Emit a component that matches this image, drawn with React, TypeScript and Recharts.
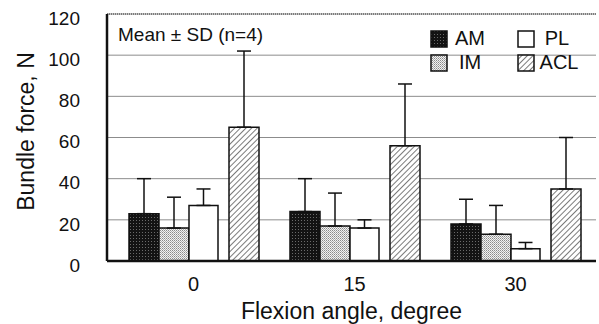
import React from "react"
import {
  Bar,
  BarChart,
  CartesianGrid,
  ErrorBar,
  ReferenceLine,
  XAxis,
  YAxis,
} from "recharts"

const angles = ["0", "15", "30"]
const amMean = [23, 24, 18]
const amSd = [17, 16, 12]
const imMean = [16, 17, 13]
const imSd = [15, 16, 14]
const plMean = [27, 16, 6]
const plSd = [8, 4, 3]
const aclMean = [65, 56, 35]
const aclSd = [37, 30, 25]
const yTicks = [0, 20, 40, 60, 80, 100, 120]

const data = angles.map((angle, i) => ({
  angle,
  am: amMean[i],
  amErr: [0, amSd[i]],
  im: imMean[i],
  imErr: [0, imSd[i]],
  pl: plMean[i],
  plErr: [0, plSd[i]],
  gap: null,
  acl: aclMean[i],
  aclErr: [0, aclSd[i]],
}))

const font = "'Liberation Sans', Arial, sans-serif"

const legendItems = [
  { name: "AM", fill: "url(#amFill)" },
  { name: "PL", fill: "#fff" },
  { name: "IM", fill: "url(#imFill)" },
  { name: "ACL", fill: "url(#aclFill)" },
]

// 2x2 key in the upper right corner of the plot
function LegendBox() {
  return (
    <div
      style={{
        position: "absolute",
        left: 430,
        top: 30,
        display: "grid",
        gridTemplateColumns: "87px 80px",
        rowGap: 7,
        fontFamily: font,
        fontSize: 20,
        color: "#111",
      }}
    >
      {legendItems.map((it) => (
        <div key={it.name} style={{ display: "flex", alignItems: "center", height: 17 }}>
          <svg width={18} height={18} style={{ display: "block" }}>
            <rect x={1} y={1} width={16} height={16} fill={it.fill} stroke="#111" strokeWidth={1.5} />
          </svg>
          <span style={{ width: it.name.length > 2 ? 48 : 44, textAlign: "center", lineHeight: "17px" }}>
            {it.name}
          </span>
        </div>
      ))}
    </div>
  )
}

export default function App() {
  return (
    <div style={{ position: "absolute", left: 0, top: 0, width: 599, height: 324, background: "#fff" }}>
      <BarChart
        width={599}
        height={324}
        data={data}
        barGap={0}
        margin={{ top: 14, right: 3, bottom: 0, left: 0 }}
      >
        <defs>
          <pattern id="amFill" width={3} height={3} patternUnits="userSpaceOnUse">
            <rect width={3} height={3} fill="#131313" />
            <rect x={1} y={1} width={1} height={1} fill="#6a6a6a" />
          </pattern>
          <pattern id="imFill" width={2} height={2} patternUnits="userSpaceOnUse">
            <rect width={2} height={2} fill="#f2f2f2" />
            <rect width={1} height={1} fill="#8a8a8a" />
            <rect x={1} y={1} width={1} height={1} fill="#b0b0b0" />
          </pattern>
          <pattern id="aclFill" width={4} height={4} patternUnits="userSpaceOnUse" patternTransform="rotate(45)">
            <rect width={4} height={4} fill="#fff" />
            <line x1={0} y1={0} x2={0} y2={4} stroke="#222" strokeWidth={1.2} />
          </pattern>
        </defs>
        <CartesianGrid vertical={false} stroke="#8c8c8c" strokeWidth={1} />
        <XAxis
          dataKey="angle"
          height={63}
          padding={{ left: 6, right: 0 }}
          axisLine={{ stroke: "#111", strokeWidth: 2.5 }}
          tickLine={false}
          tickSize={0}
          tickMargin={16}
          tick={{ fill: "#111", fontSize: 20, fontFamily: font }}
          label={{
            value: "Flexion angle, degree",
            position: "insideBottom",
            offset: 5,
            fill: "#111",
            fontSize: 23,
            fontFamily: font,
          }}
        />
        <YAxis
          width={107}
          domain={[0, 120]}
          ticks={yTicks}
          interval={0}
          axisLine={{ stroke: "#111", strokeWidth: 2.5 }}
          tickLine={false}
          tickSize={0}
          tickMargin={27}
          tick={{ fill: "#111", fontSize: 19, fontFamily: font, dy: 4 }}
          label={{
            value: "Bundle force, N",
            angle: -90,
            position: "center",
            dx: -28,
            dy: -6,
            fill: "#111",
            fontSize: 23,
            fontFamily: font,
          }}
        />
        <YAxis
          yAxisId="frame"
          orientation="right"
          width={0}
          domain={[0, 120]}
          tick={false}
          tickLine={false}
          axisLine={{ stroke: "#333", strokeDasharray: "1 1" }}
        />
        <ReferenceLine y={120} stroke="#333" strokeDasharray="1 1" />
        <Bar dataKey="am" barSize={30} fill="url(#amFill)" stroke="#111" strokeWidth={1.5} isAnimationActive={false}>
          <ErrorBar dataKey="amErr" width={7} stroke="#111" strokeWidth={1.5} />
        </Bar>
        <Bar dataKey="im" barSize={30} fill="url(#imFill)" stroke="#111" strokeWidth={1.5} isAnimationActive={false}>
          <ErrorBar dataKey="imErr" width={7} stroke="#111" strokeWidth={1.5} />
        </Bar>
        <Bar dataKey="pl" barSize={29} fill="#fff" stroke="#111" strokeWidth={1.5} isAnimationActive={false}>
          <ErrorBar dataKey="plErr" width={7} stroke="#111" strokeWidth={1.5} />
        </Bar>
        <Bar dataKey="gap" barSize={11} fill="none" isAnimationActive={false} />
        <Bar dataKey="acl" barSize={30} fill="url(#aclFill)" stroke="#111" strokeWidth={1.5} isAnimationActive={false}>
          <ErrorBar dataKey="aclErr" width={7} stroke="#111" strokeWidth={1.5} />
        </Bar>
      </BarChart>
      <LegendBox />
      <div
        style={{
          position: "absolute",
          left: 118,
          top: 24,
          fontFamily: font,
          fontSize: 19,
          color: "#111",
          whiteSpace: "pre",
        }}
      >
        {"Mean ± SD (n=4)"}
      </div>
    </div>
  )
}
